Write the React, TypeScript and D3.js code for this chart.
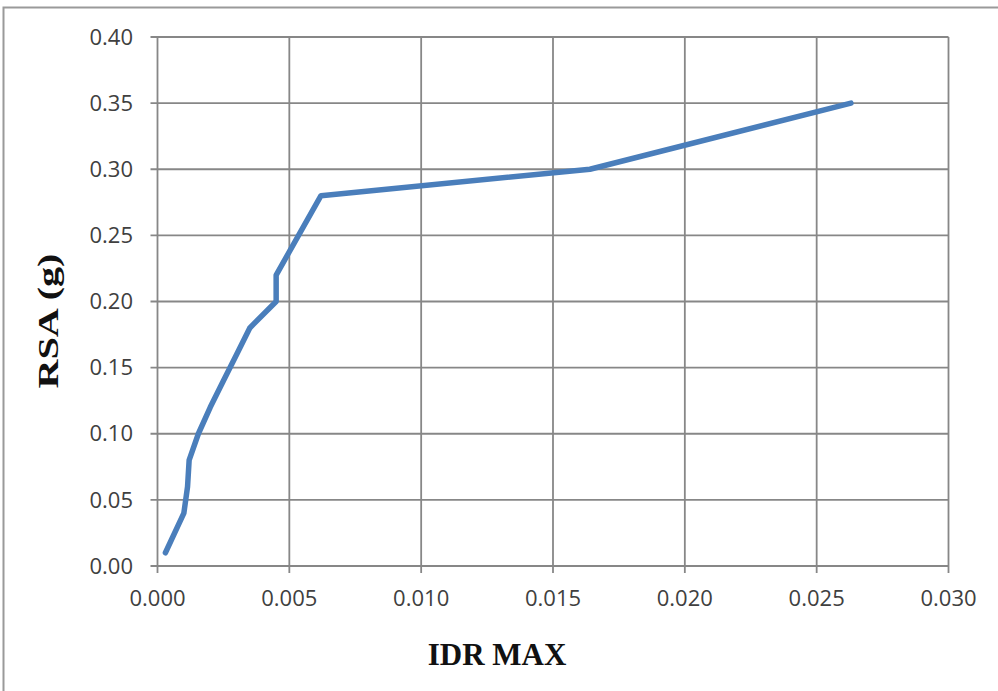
import React from "react";
import * as d3 from "d3";

// Maximum inter-storey drift ratio versus spectral acceleration
const idrValues = [0.0003, 0.001, 0.00114, 0.0012, 0.00155, 0.002, 0.0025, 0.003, 0.0035, 0.0045, 0.0045, 0.0062, 0.0164, 0.0263];
const rsaValues = [0.01, 0.04, 0.06, 0.08, 0.10, 0.12, 0.14, 0.16, 0.18, 0.20, 0.22, 0.28, 0.30, 0.35];
const xTicks = [0, 0.005, 0.01, 0.015, 0.02, 0.025, 0.03];
const yTicks = [0, 0.05, 0.1, 0.15, 0.2, 0.25, 0.3, 0.35, 0.4];

const W = 998;
const H = 691;
const left = 157.5;
const right = 948.5;
const top = 37;
const bottom = 566;

export default function App() {
  const x = d3.scaleLinear().domain([0, 0.03]).range([left, right]);
  const y = d3.scaleLinear().domain([0, 0.4]).range([bottom, top]);
  const pts: [number, number][] = idrValues.map((v, i) => [v, rsaValues[i]]);
  const line = d3
    .line<[number, number]>()
    .x((d) => x(d[0]))
    .y((d) => y(d[1]));
  const grid = "#878787";
  const tickFont = "'Open Sans', sans-serif";

  return (
    <svg
      width={W}
      height={H}
      style={{ position: "absolute", left: 0, top: 0, background: "#fff" }}
    >
      {/* outer frame */}
      <path d={`M3.5,${H} L3.5,7.5 L${W},7.5`} fill="none" stroke="#9a9a9a" strokeWidth={2} />

      {/* horizontal grid lines with left ticks */}
      {yTicks.map((t) => (
        <g key={"y" + t}>
          <line x1={left - 7} x2={right} y1={y(t)} y2={y(t)} stroke={grid} strokeWidth={1.8} />
          <text
            x={133}
            y={y(t)}
            dy="0.35em"
            textAnchor="end"
            fontFamily={tickFont}
            fontSize={22}
            fill="#404040"
          >
            {d3.format(".2f")(t)}
          </text>
        </g>
      ))}

      {/* vertical grid lines with bottom ticks */}
      {xTicks.map((t) => (
        <g key={"x" + t}>
          <line x1={x(t)} x2={x(t)} y1={top} y2={bottom + 7} stroke={grid} strokeWidth={1.8} />
          <text
            x={x(t)}
            y={606}
            textAnchor="middle"
            fontFamily={tickFont}
            fontSize={22}
            fill="#404040"
          >
            {d3.format(".3f")(t)}
          </text>
        </g>
      ))}

      {/* data curve */}
      <path
        d={line(pts) || ""}
        fill="none"
        stroke="#4a7ebb"
        strokeWidth={5.5}
        strokeLinejoin="round"
        strokeLinecap="round"
      />

      {/* axis titles */}
      <text
        x={497}
        y={665}
        textAnchor="middle"
        fontFamily="'Liberation Serif', 'Times New Roman', serif"
        fontWeight="bold"
        fontSize={31}
        fill="#111"
      >
        IDR MAX
      </text>
      <text
        transform={`translate(58,321) rotate(-90)`}
        textAnchor="middle"
        fontFamily="'Liberation Serif', 'Times New Roman', serif"
        fontWeight="bold"
        fontSize={30}
        textLength={135}
        lengthAdjust="spacingAndGlyphs"
        fill="#111"
      >
        RSA (g)
      </text>
    </svg>
  );
}
